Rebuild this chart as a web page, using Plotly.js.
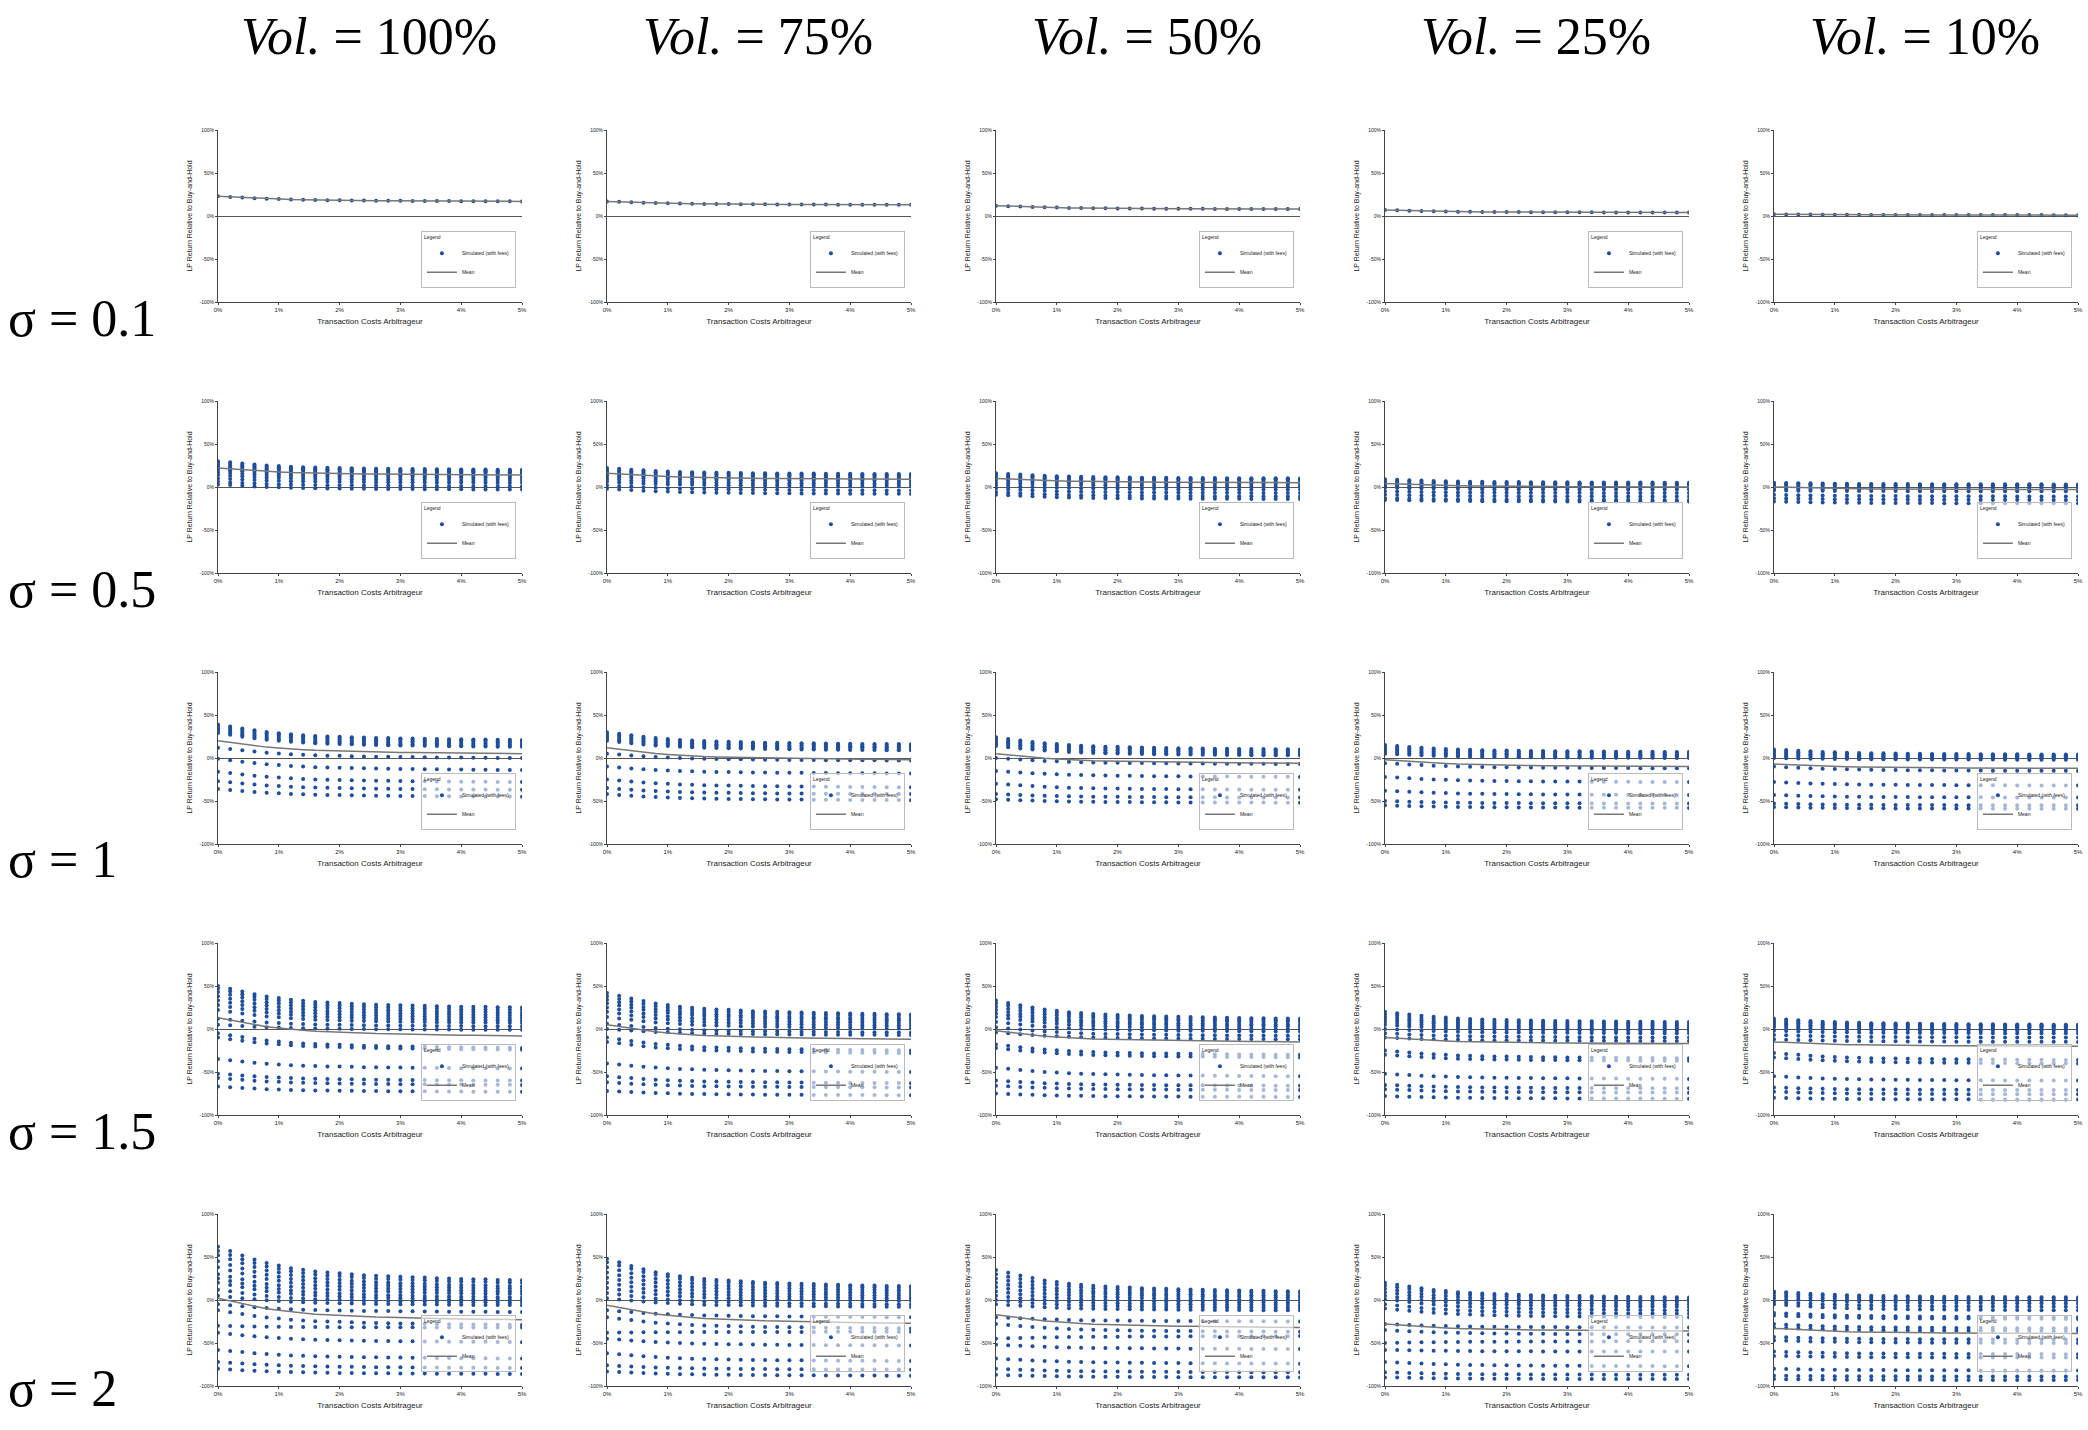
<!DOCTYPE html>
<html>
<head>
<meta charset="utf-8">
<script src="https://cdn.plot.ly/plotly-3.0.1.min.js"></script>
<style>body{margin:0;background:#fff}#chart{width:2088px;height:1430px}</style>
</head>
<body>
<div id="chart"></div>
<script>
const W = 2088, H = 1430;
const costs = [0,0.2,0.4,0.6,0.8,1,1.2,1.4,1.6,1.8,2,2.2,2.4,2.6,2.8,3,3.2,3.4,3.6,3.8,4,4.2,4.4,4.6,4.8,5];
const decay = [1,.87,.74,.62,.51,.44,.36,.31,.26,.23,.21,.18,.15,.13,.12,.10,.09,.08,.06,.05,.04,.03,.03,.01,.01,0];
const volLabels = ['100%','75%','50%','25%','10%'];
const sigmaLabels = ['0.1','0.5','1','1.5','2'];

// per row (sigma), per column (vol): simulated path values at 0% and 5%, mean at 0% and 5%
const simStart = [
  [[23],[17],[12],[7],[2]],
  [[30,28,26,24,22,20,17,14,10,6,3],[22,20,18,16,14,12,9,6,2,-2],[16,14,12,10,8,5,2,-2,-6,-9],[9,7,5,3,1,-1,-5,-9,-13,-15],[5,4,2,0,-2,-4,-9,-13,-17]],
  [[39,37,35,33,31,29,12,-1,-16,-27,-36],[30,28,26,24,22,20,5,-10,-25,-35,-42],[24,22,20,18,16,14,0,-15,-30,-42,-48],[15,13,11,9,7,5,-6,-22,-38,-50,-55],[10,8,6,4,2,0,-10,-28,-43,-53,-57]],
  [[50,47,43,38,33,28,22,12,5,-5,-10,-35,-52,-57,-67],[42,38,34,30,25,20,14,6,0,-10,-15,-40,-55,-62,-72],[33,30,26,22,18,14,8,2,-4,-18,-22,-45,-60,-66,-75],[20,17,14,11,8,5,0,-5,-10,-25,-30,-52,-65,-70,-78],[12,10,8,6,4,2,-2,-7,-12,-28,-33,-55,-68,-73,-80]],
  [[62,57,52,45,38,30,25,20,12,5,-5,-12,-30,-38,-58,-72,-80],[48,44,38,32,26,20,14,8,2,-12,-20,-38,-45,-62,-76,-83],[35,30,25,20,15,10,5,0,-5,-20,-28,-45,-52,-68,-80,-87],[20,17,13,9,5,1,-5,-10,-28,-35,-50,-58,-72,-84,-90],[10,8,5,2,-2,-5,-15,-18,-28,-32,-43,-47,-60,-65,-80,-88,-92]]
];
const simEnd = [
  [[17],[13],[8],[4],[1]],
  [[20,19,18,17,15,13,11,8,5,1,-3],[15,14,13,11,9,7,4,1,-4,-8],[10,9,8,6,4,1,-3,-7,-11,-14],[5,4,3,1,-1,-3,-7,-11,-15,-17],[3,2,1,-1,-3,-5,-11,-15,-19]],
  [[21,20,18,16,14,13,0,-14,-28,-37,-45],[16,15,13,12,10,9,-3,-18,-34,-42,-49],[10,9,7,6,4,3,-7,-22,-37,-46,-52],[7,6,4,3,1,0,-12,-28,-43,-53,-58],[4,3,2,1,0,-2,-15,-32,-46,-55,-59]],
  [[25,22,19,16,13,10,7,3,-1,-22,-24,-46,-60,-65,-73],[17,15,12,10,7,4,1,-4,-7,-25,-28,-50,-63,-68,-77],[12,10,8,5,3,0,-3,-8,-12,-30,-33,-55,-66,-71,-79],[8,6,4,2,0,-2,-5,-10,-14,-34,-37,-58,-69,-74,-81],[5,4,3,2,0,-2,-5,-10,-15,-36,-40,-60,-71,-76,-82]],
  [[23,20,16,13,10,7,3,0,-3,-6,-14,-29,-32,-49,-68,-79,-86],[16,14,11,8,5,2,-1,-5,-8,-20,-33,-37,-53,-71,-81,-88],[10,8,5,3,0,-3,-6,-9,-12,-25,-37,-42,-57,-74,-84,-90],[3,1,-2,-5,-8,-12,-16,-20,-32,-40,-48,-60,-77,-87,-92],[3,1,-1,-4,-8,-12,-20,-22,-33,-36,-46,-50,-63,-67,-82,-89,-93]]
];
const meanStart = [[23,17,12,7,2],[22,16,10,4,0],[20,12,5,-2,-7],[13,5,-2,-10,-15],[2,-6,-17,-28,-33]];
const meanEnd = [[17,13,8,4,1],[14,9,5,0,-3],[5,-2,-6,-10,-12],[-8,-12,-15,-17,-20],[-23,-27,-32,-36,-39]];

const pw = 304, ph = 172;
const traces = [];
const layout = {
  width: W, height: H, margin: {l:0,r:0,t:0,b:0},
  paper_bgcolor: '#fff', plot_bgcolor: '#fff',
  font: {family: 'Liberation Sans, Arial', color: '#222', size: 6},
  annotations: [], showlegend: true
};

for (let r = 0; r < 5; r++) {
  for (let c = 0; c < 5; c++) {
    const k = r * 5 + c + 1;
    const sfx = k === 1 ? '' : String(k);
    const left = 218 + 389 * c, top = 130 + 271 * r;
    const xs = [], ys = [];
    simStart[r][c].forEach((s, j) => {
      const e = simEnd[r][c][j];
      costs.forEach((x, i) => { xs.push(x); ys.push(e + (s - e) * decay[i]); });
    });
    const legName = 'legend' + sfx;
    traces.push({
      x: xs, y: ys, xaxis: 'x' + sfx, yaxis: 'y' + sfx, type: 'scatter', mode: 'markers',
      name: 'Simulated (with fees)', legend: legName,
      marker: {color: '#1f4e9c', size: 4}
    });
    traces.push({
      x: costs, y: costs.map((x, i) => meanEnd[r][c] + (meanStart[r][c] - meanEnd[r][c]) * decay[i]),
      xaxis: 'x' + sfx, yaxis: 'y' + sfx, type: 'scatter', mode: 'lines',
      name: 'Mean', legend: legName, line: {color: '#777', width: 1.5}
    });
    layout['xaxis' + sfx] = {
      domain: [left / W, (left + pw) / W], anchor: 'y' + sfx, range: [0, 5],
      tickvals: [0,1,2,3,4,5], ticktext: ['0%','1%','2%','3%','4%','5%'],
      showgrid: false, zeroline: false, showline: true, linecolor: '#444', linewidth: 1,
      ticks: 'outside', ticklen: 2, tickcolor: '#444', tickfont: {size: 6},
      title: {text: 'Transaction Costs Arbitrageur', font: {size: 8}, standoff: 6}
    };
    layout['yaxis' + sfx] = {
      domain: [1 - (top + ph) / H, 1 - top / H], anchor: 'x' + sfx, range: [-100, 100],
      tickvals: [-100,-50,0,50,100], ticktext: ['-100%','-50%','0%','50%','100%'],
      showgrid: false, zeroline: true, zerolinecolor: '#555', zerolinewidth: 1,
      showline: true, linecolor: '#444', linewidth: 1,
      ticks: 'outside', ticklen: 2, tickcolor: '#444', tickfont: {size: 5},
      title: {text: 'LP Return Relative to Buy-and-Hold', font: {size: 7}, standoff: 6}
    };
    layout[legName] = {
      x: (left + pw * 0.98) / W, y: 1 - (top + ph * 0.92) / H, xanchor: 'right', yanchor: 'bottom',
      bordercolor: '#bbb', borderwidth: 1, bgcolor: 'rgba(255,255,255,0.6)',
      title: {text: 'Legend', font: {size: 5}}, font: {size: 5},
      itemwidth: 30, tracegroupgap: 0
    };
  }
}

volLabels.forEach((v, c) => {
  layout.annotations.push({
    text: '<i>Vol.</i> = ' + v, xref: 'paper', yref: 'paper',
    x: (369 + 389 * c) / W, y: 1 - 6 / H, xanchor: 'center', yanchor: 'top', showarrow: false,
    font: {family: 'Liberation Serif, Times New Roman, serif', size: 52, color: '#000'}
  });
});
sigmaLabels.forEach((s, r) => {
  layout.annotations.push({
    text: 'σ = ' + s, xref: 'paper', yref: 'paper',
    x: 6 / W, y: 1 - Math.min(318 + 271 * r, 1388) / H, xanchor: 'left', yanchor: 'middle', showarrow: false,
    font: {family: 'Liberation Serif, Times New Roman, serif', size: 52, color: '#000'}
  });
});

Plotly.newPlot('chart', traces, layout, {staticPlot: true});
</script>
</body>
</html>
